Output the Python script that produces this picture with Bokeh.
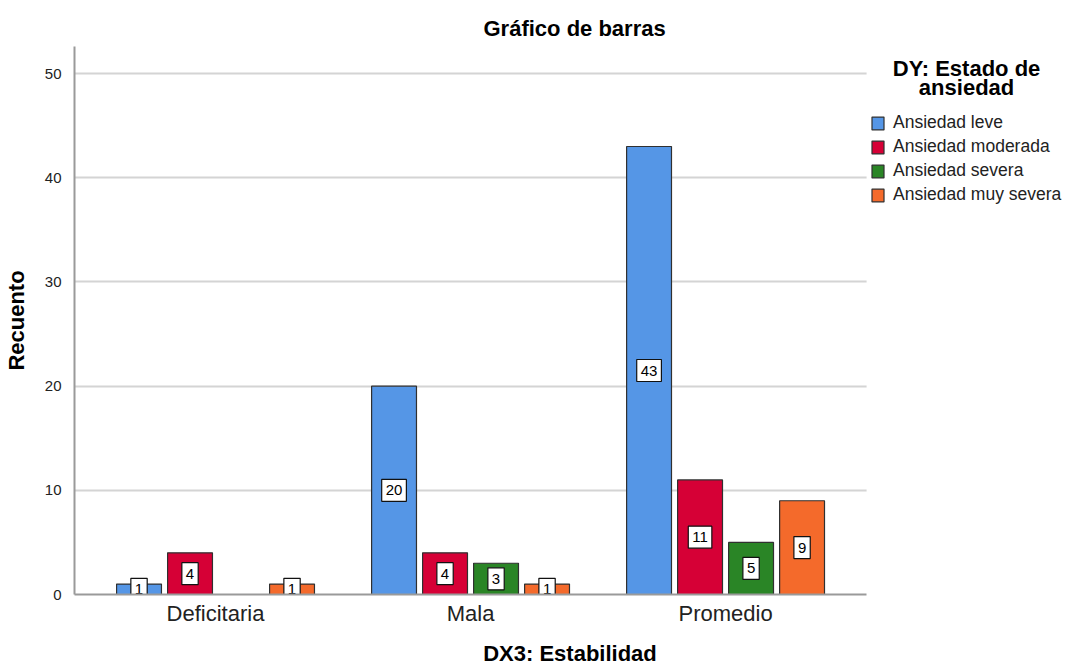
from bokeh.plotting import figure
from bokeh.models import (Range1d, ColumnDataSource, Legend, LegendItem, FixedTicker,
                          SingleIntervalTicker, Label, BoxAnnotation)
from bokeh.core.properties import value
from bokeh.embed import file_html
from bokeh.resources import INLINE

categories = ["Deficitaria", "Mala", "Promedio"]
series_names = ["Ansiedad leve", "Ansiedad moderada", "Ansiedad severa", "Ansiedad muy severa"]
leve = [1, 20, 43]
moderada = [4, 4, 11]
severa = [0, 3, 5]
muy_severa = [1, 1, 9]
series_values = [leve, moderada, severa, muy_severa]
legend_title_lines = ["DY: Estado de", "ansiedad"]
colors = ["#5596e6", "#d60036", "#2a8526", "#f46a2b"]
offsets = [-0.3, -0.1, 0.1, 0.3]

FONT = "Liberation Sans"

centers = [i + 0.5 for i in range(len(categories))]
X_START, X_AXIS_END, X_END = -0.053, len(categories) + 0.053, 3.833

p = figure(x_range=Range1d(X_START, X_END), y_range=Range1d(0, 52.6),
           frame_width=991, frame_height=548,
           min_border_left=66, min_border_top=46, min_border_bottom=0, min_border_right=0,
           output_backend="svg", toolbar_location=None)

p.title.text = "Gráfico de barras"
p.title.text_font = FONT
p.title.text_font_size = "22px"
p.title.text_font_style = "bold"
p.title.text_color = "black"
p.title.align = "left"
p.title.offset = 409
p.title.standoff = 12

# hide grid lines beyond the plotting area used by the axis
p.add_layout(BoxAnnotation(left=X_AXIS_END, fill_color="white", fill_alpha=1.0,
                           line_color=None, level="underlay"))

items = []
for name, vals, col, off in zip(series_names, series_values, colors, offsets):
    src = ColumnDataSource(dict(x=[c + off for c in centers], top=vals))
    r = p.vbar(x="x", top="top", width=0.176, source=src,
               fill_color=col, line_color="#303030", line_width=1.2)
    items.append(LegendItem(label=name, renderers=[r]))
    nz = [i for i, v in enumerate(vals) if v > 0]
    lsrc = ColumnDataSource(dict(x=[centers[i] + off for i in nz],
                                 y=[vals[i] / 2 for i in nz],
                                 lab=[str(vals[i]) for i in nz]))
    p.text(x="x", y="y", text="lab", source=lsrc,
           text_align="center", text_baseline="middle",
           text_font=value(FONT), text_font_size="15px", text_color="black",
           background_fill_color="white", border_line_color="#111111", border_line_width=1.2,
           padding=dict(x=4, y=6))

legend = Legend(items=items)
legend.label_text_font = FONT
legend.label_text_font_size = "17.5px"
legend.label_text_color = "#222222"
legend.glyph_width = 15
legend.glyph_height = 16
legend.label_height = 20
legend.label_standoff = 8
legend.spacing = 3
legend.padding = 0
legend.margin = 0
legend.border_line_alpha = 0
legend.background_fill_alpha = 0
legend.location = (796, 389)
p.add_layout(legend)

for line, yv in zip(legend_title_lines, [50.5, 48.66]):
    p.add_layout(Label(x=3.445, y=yv, text=line, text_align="center", text_baseline="alphabetic",
                       text_font=FONT, text_font_size="22px", text_font_style="bold",
                       text_color="black"))

p.xgrid.grid_line_color = None
p.ygrid.grid_line_color = "#d4d4d4"
p.ygrid.grid_line_width = 2
p.yaxis.ticker = SingleIntervalTicker(interval=10)
p.xaxis.ticker = FixedTicker(ticks=centers)
p.xaxis.major_label_overrides = {c: lab for c, lab in zip(centers, categories)}
p.xaxis.bounds = (X_START, X_AXIS_END)

for ax in (p.xaxis, p.yaxis):
    ax.axis_line_color = "#9a9a9a"
    ax.axis_line_width = 2
    ax.major_tick_line_color = None
    ax.minor_tick_line_color = None
    ax.major_label_text_font = FONT
    ax.axis_label_text_font = FONT
    ax.axis_label_text_font_style = "bold"
    ax.axis_label_text_font_size = "22px"
    ax.major_label_text_color = "#222222"
    ax.axis_label_text_color = "black"

p.xaxis.axis_label = "DX3: Estabilidad"
p.xaxis.major_label_text_font_size = "22px"
p.xaxis.major_label_standoff = 0
p.xaxis.axis_label_standoff = 12
p.yaxis.axis_label = "Recuento"
p.yaxis.major_label_text_font_size = "15px"
p.yaxis.major_label_standoff = 7
p.yaxis.axis_label_standoff = 13
p.outline_line_color = None

open("out.html", "w").write(file_html(p, INLINE))
